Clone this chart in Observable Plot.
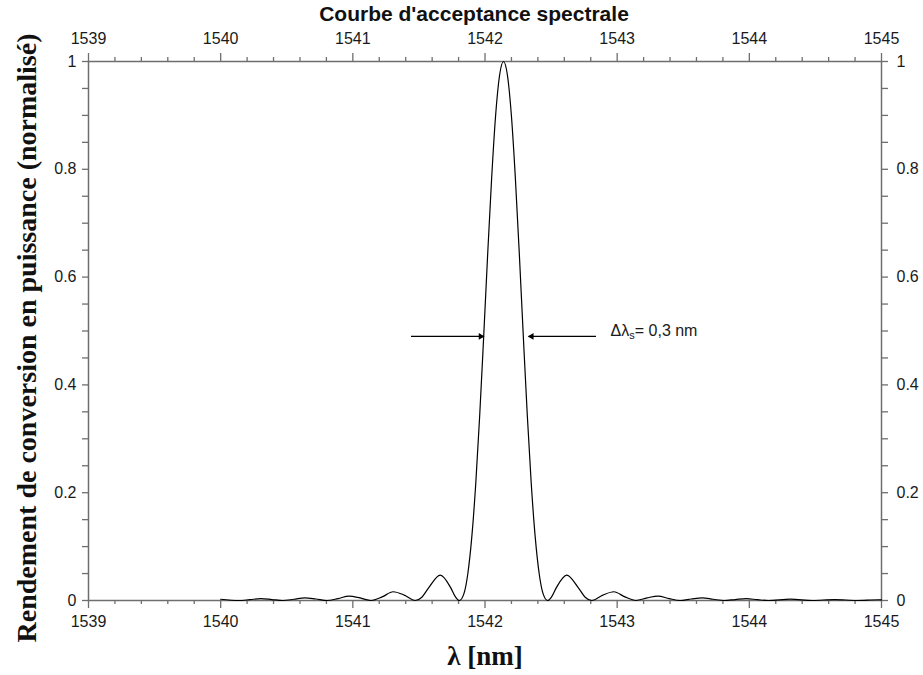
<!DOCTYPE html>
<html><head><meta charset="utf-8">
<script src="https://cdn.jsdelivr.net/npm/d3@7"></script>
<script src="https://cdn.jsdelivr.net/npm/@observablehq/plot@0.6"></script>
<style>body{margin:0;background:#fff}</style>
</head><body><div id="chart"></div>
<script>
// ---- data ----
const wavelength = [
  1540.000, 1540.136, 1540.220, 1540.303, 1540.387, 1540.470,
  1540.554, 1540.637, 1540.721, 1540.804,
  1540.888, 1540.971, 1541.055, 1541.138,
  1541.222, 1541.305, 1541.389, 1541.472,
  1541.522, 1541.572, 1541.662, 1541.739, 1541.773, 1541.806,
  1541.84, 1541.87, 1541.90, 1541.93, 1541.96, 1541.99, 1542.02, 1542.05, 1542.08, 1542.11, 1542.14,
  1542.17, 1542.20, 1542.23, 1542.26, 1542.29, 1542.32, 1542.35, 1542.38, 1542.41, 1542.44, 1542.474,
  1542.507, 1542.541, 1542.618, 1542.708, 1542.758, 1542.808,
  1542.892, 1542.975, 1543.059, 1543.142,
  1543.226, 1543.309, 1543.393, 1543.476,
  1543.560, 1543.643, 1543.727, 1543.810,
  1543.894, 1543.977, 1544.061, 1544.144,
  1544.311, 1544.478, 1544.645, 1544.812, 1544.979, 1545.000
];
const efficiency = [
  0.0023, 0, 0.0015, 0.0034, 0.0018, 0,
  0.0023, 0.0050, 0.0028, 0,
  0.0036, 0.0083, 0.0048, 0,
  0.0067, 0.0162, 0.0100, 0,
  0.0061, 0.0230, 0.0472, 0.0243, 0.0080, 0,
  0.0123, 0.0497, 0.1175, 0.2166, 0.3436, 0.4896, 0.6413, 0.7825, 0.8990, 0.9740, 1.0000,
  0.9740, 0.8990, 0.7825, 0.6413, 0.4896, 0.3436, 0.2166, 0.1175, 0.0497, 0.0123, 0,
  0.0080, 0.0243, 0.0472, 0.0230, 0.0061, 0,
  0.0100, 0.0162, 0.0067, 0,
  0.0048, 0.0083, 0.0036, 0,
  0.0028, 0.0050, 0.0023, 0,
  0.0018, 0.0034, 0.0015, 0,
  0.0024, 0, 0.0018, 0, 0.0014, 0.0013
];
const xMajor = [1539, 1540, 1541, 1542, 1543, 1544, 1545];
const xTickLabels = ["1539", "1540", "1541", "1542", "1543", "1544", "1545"];
const xMinor = [1539.2, 1539.4, 1539.6, 1539.8, 1540.2, 1540.4, 1540.6, 1540.8,
  1541.2, 1541.4, 1541.6, 1541.8, 1542.2, 1542.4, 1542.6, 1542.8,
  1543.2, 1543.4, 1543.6, 1543.8, 1544.2, 1544.4, 1544.6, 1544.8];
const yMajor = [0, 0.2, 0.4, 0.6, 0.8, 1];
const yTickLabels = ["0", "0.2", "0.4", "0.6", "0.8", "1"];
const yMinor = [0.05, 0.1, 0.15, 0.25, 0.3, 0.35, 0.45, 0.5, 0.55, 0.65, 0.7, 0.75, 0.85, 0.9, 0.95];

// annotation (data units)
const arrowFrom = [1541.44, 1542.84];
const arrowTo = [1541.99, 1542.33];
const arrowLevel = [0.49, 0.49];
const noteText = "Δλs= 0,3 nm";
const noteX = 1542.95;
const noteY = 0.50;

const title = "Courbe d'acceptance spectrale";
const xLabel = "λ [nm]";
const yLabel = "Rendement de conversion en puissance (normalisé)";

// ---- build ----
const curve = wavelength.map((w, i) => ({w, v: efficiency[i]}));
const arrows = arrowFrom.map((f, i) => ({from: f, to: arrowTo[i], y: arrowLevel[i]}));

const axisColor = "#6e6e6e";
const sans = "'Liberation Sans', Arial, sans-serif";
const serif = "'Liberation Serif', 'Times New Roman', serif";
const xfmt = d => xTickLabels[xMajor.indexOf(d)];
const yfmt = d => yTickLabels[yMajor.indexOf(d)];
const none = () => "";

const chart = Plot.plot({
  width: 923, height: 675,
  marginLeft: 88, marginRight: 42, marginTop: 61, marginBottom: 75,
  style: {fontFamily: sans, fontSize: "16px", color: "#1a1a1a", background: "#fff"},
  x: {domain: [1539, 1545]},
  y: {domain: [0, 1]},
  marks: [
    Plot.frame({stroke: axisColor, strokeWidth: 1.5}),
    Plot.axisX({anchor: "bottom", ticks: xMinor, tickSize: 4, tickFormat: none, stroke: axisColor, strokeWidth: 1.3, label: null}),
    Plot.axisX({anchor: "bottom", ticks: xMajor, tickSize: 8, tickPadding: 7, tickFormat: xfmt, stroke: axisColor, strokeWidth: 1.3, label: null}),
    Plot.axisX({anchor: "top", ticks: xMinor, tickSize: 5, tickFormat: none, stroke: axisColor, strokeWidth: 1.3, label: null}),
    Plot.axisX({anchor: "top", ticks: xMajor, tickSize: 9, tickPadding: 9, tickFormat: xfmt, stroke: axisColor, strokeWidth: 1.3, label: null}),
    Plot.axisY({anchor: "left", ticks: yMinor, tickSize: 6, tickFormat: none, stroke: axisColor, strokeWidth: 1.3, label: null}),
    Plot.axisY({anchor: "left", ticks: yMajor, tickSize: 6, tickPadding: 6, tickFormat: yfmt, stroke: axisColor, strokeWidth: 1.3, label: null}),
    Plot.axisY({anchor: "right", ticks: yMinor, tickSize: 6, tickFormat: none, stroke: axisColor, strokeWidth: 1.3, label: null}),
    Plot.axisY({anchor: "right", ticks: yMajor, tickSize: 6, tickPadding: 9, tickFormat: yfmt, stroke: axisColor, strokeWidth: 1.3, label: null}),
    Plot.line(curve, {x: "w", y: "v", curve: "monotone-x", stroke: "#000", strokeWidth: 1.2}),
    Plot.link(arrows, {x1: "from", x2: "to", y1: "y", y2: "y", stroke: "#000", strokeWidth: 1.1}),
    Plot.dot([arrows[0]], {x: "to", y: "y", symbol: "triangle2", r: 3.2, rotate: 90, fill: "#000", stroke: "none", dx: -3}),
    Plot.dot([arrows[1]], {x: "to", y: "y", symbol: "triangle2", r: 3.2, rotate: -90, fill: "#000", stroke: "none", dx: 3}),
    Plot.text([noteText], {x: () => noteX, y: () => noteY, textAnchor: "start", fontSize: 16, fontFamily: sans, fill: "#1a1a1a"}),
    Plot.text([title], {frameAnchor: "top", textAnchor: "middle", dx: -11, dy: -41, lineAnchor: "bottom", fontSize: 21, fontWeight: "bold", fontFamily: sans, fill: "#111"}),
    Plot.text([xLabel], {frameAnchor: "bottom", textAnchor: "middle", lineAnchor: "middle", dy: 56, fontSize: 27, fontWeight: "bold", fontFamily: serif, fill: "#111"}),
    Plot.text([yLabel], {frameAnchor: "left", textAnchor: "middle", lineAnchor: "middle", rotate: -90, dx: -61, dy: 7, fontSize: 28, fontWeight: "bold", fontFamily: serif, fill: "#111"})
  ]
});
document.getElementById("chart").appendChild(chart);

// subscript "s" in the annotation
chart.querySelectorAll("text").forEach(t => {
  if (t.textContent === noteText) {
    const ns = "http://www.w3.org/2000/svg";
    t.textContent = "";
    const a = document.createElementNS(ns, "tspan"); a.textContent = "Δλ";
    const b = document.createElementNS(ns, "tspan"); b.textContent = "s";
    b.setAttribute("font-size", "11"); b.setAttribute("dy", "3");
    const c = document.createElementNS(ns, "tspan"); c.textContent = "= 0,3 nm";
    c.setAttribute("dy", "-3");
    t.append(a, b, c);
  }
});
</script>
</body></html>
